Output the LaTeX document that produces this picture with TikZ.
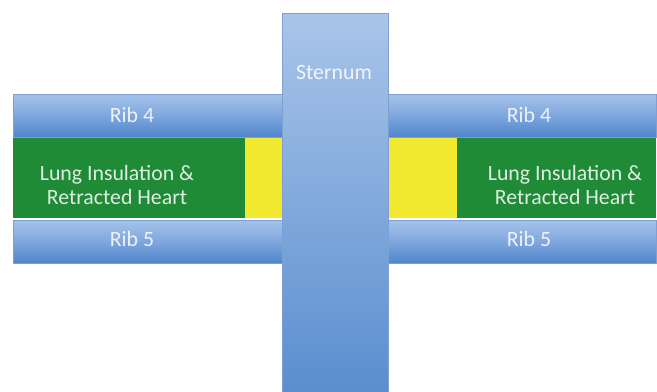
\documentclass[tikz,border=0pt]{standalone}
\usepackage{fontspec}
\setmainfont{Carlito}
\usetikzlibrary{positioning}

\definecolor{ribtop}{HTML}{A5C3EA}
\definecolor{ribmid}{HTML}{7FA7DE}
\definecolor{ribbot}{HTML}{5085CC}
\definecolor{sterntop}{HTML}{A9C5E9}
\definecolor{sternbot}{HTML}{5A8ECF}
\definecolor{ribedge}{HTML}{7E9FCF}
\definecolor{lunggreen}{HTML}{1F8B36}
\definecolor{padyellow}{HTML}{F1E92F}

\begin{document}
\begin{tikzpicture}[
        x=0.025cm, y=-0.025cm,
        font=\fontsize{15.5}{17}\selectfont,
        ribfill/.style   ={top color=ribtop, bottom color=ribbot, middle color=ribmid,
                           draw=ribedge, line width=0.3pt},
        sternfill/.style ={top color=sterntop, bottom color=sternbot,
                           draw=ribedge, line width=0.3pt},
        lungfill/.style  ={fill=lunggreen},
        padfill/.style   ={fill=padyellow},
        lbl/.style       ={text=white, opacity=0.85, align=center, inner sep=0pt},
    ]
    \useasboundingbox[fill=white] (0,0) rectangle (657,391);

    % ===================== Left side =====================
    \shade[ribfill] (13,94) rectangle (283,137);
    \fill[lungfill] (13,138) rectangle (245,218);
    \fill[padfill]  (245,138) rectangle (283,218);
    \shade[ribfill] (13,220) rectangle (283,263);

    % ===================== Right side =====================
    \shade[ribfill] (387,94) rectangle (656,137);
    \fill[padfill]  (387,138) rectangle (457,218);
    \fill[lungfill] (457,138) rectangle (656,218);
    \shade[ribfill] (387,220) rectangle (656,263);

    % ===================== Sternum =====================
    \shade[sternfill] (282,13) rectangle (388,392);

    % ===================== Labels =====================
    \node[lbl, font=\fontsize{15.5}{17}\selectfont] (stern) at (334,72) {Sternum};
    \node[lbl] (rib4l) at (132,115) {Rib 4};
    \node[lbl] (rib5l) at (132,239) {Rib 5};
    \node[lbl] (lungl) at (117,185) {Lung Insulation \&\\Retracted Heart};
    \node[lbl] (rib4r) at (529,115) {Rib 4};
    \node[lbl] (rib5r) at (529,239) {Rib 5};
    \node[lbl] (lungr) at (565,185) {Lung Insulation \&\\Retracted Heart};
\end{tikzpicture}
\end{document}
